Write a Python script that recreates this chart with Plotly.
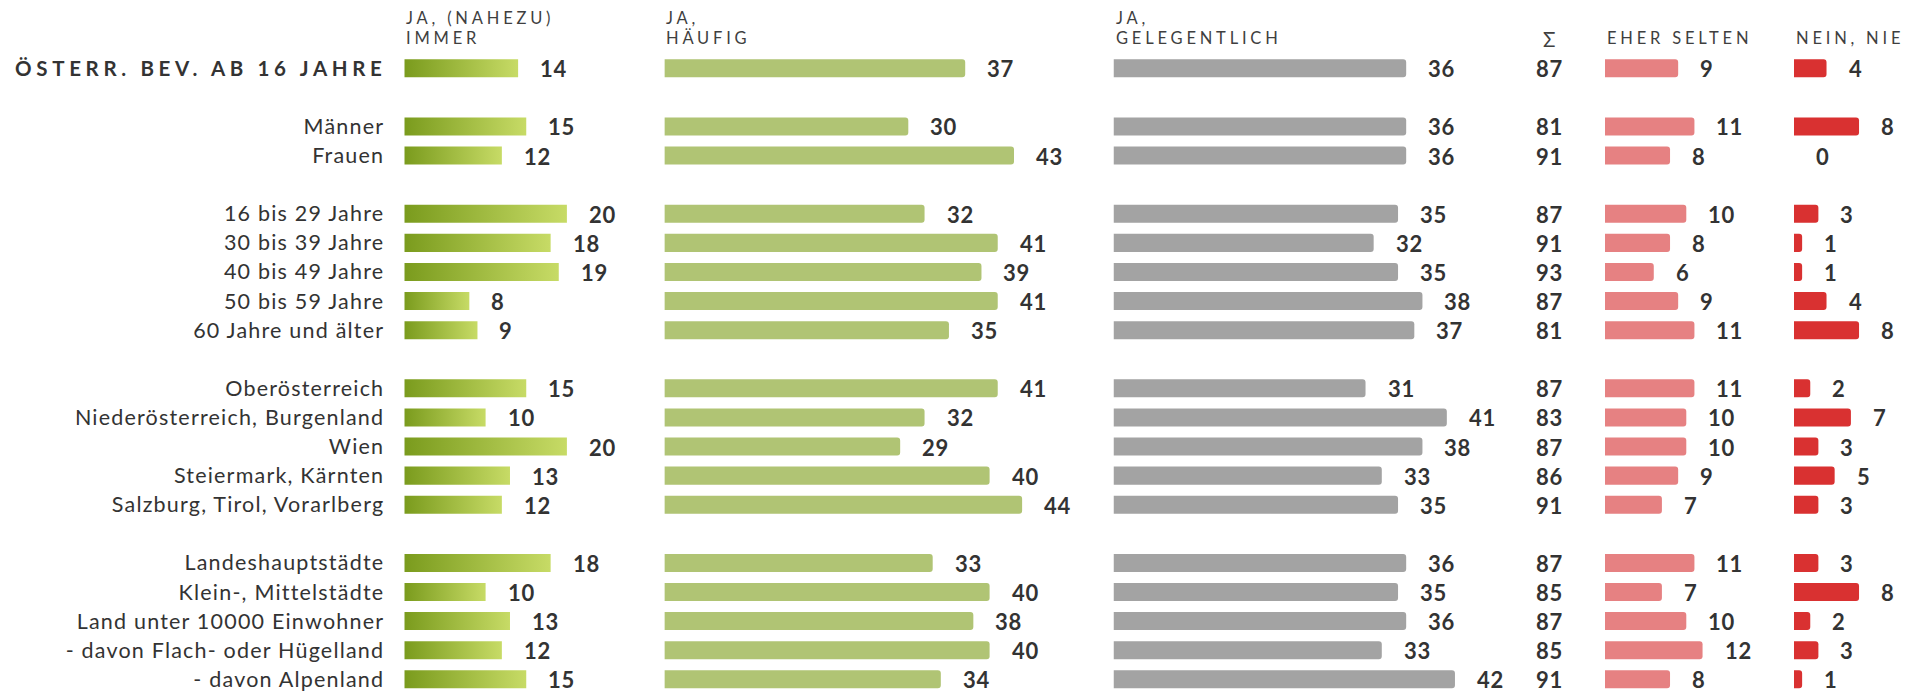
import plotly.graph_objects as go

# --- data ---------------------------------------------------------------
title_label = "ÖSTERR. BEV. AB 16 JAHRE"
row_labels = [
    "Männer", "Frauen",
    "16 bis 29 Jahre", "30 bis 39 Jahre", "40 bis 49 Jahre", "50 bis 59 Jahre", "60 Jahre und älter",
    "Oberösterreich", "Niederösterreich, Burgenland", "Wien", "Steiermark, Kärnten", "Salzburg, Tirol, Vorarlberg",
    "Landeshauptstädte", "Klein-, Mittelstädte", "Land unter 10000 Einwohner",
    "- davon Flach- oder Hügelland", "- davon Alpenland",
]
group_sizes = [1, 2, 5, 5, 5]  # first group is the total row

immer = [14, 15, 12, 20, 18, 19, 8, 9, 15, 10, 20, 13, 12, 18, 10, 13, 12, 15]
haeufig = [37, 30, 43, 32, 41, 39, 41, 35, 41, 32, 29, 40, 44, 33, 40, 38, 40, 34]
gelegentlich = [36, 36, 36, 35, 32, 35, 38, 37, 31, 41, 38, 33, 35, 36, 35, 36, 33, 42]
summe = [87, 81, 91, 87, 91, 93, 87, 81, 87, 83, 87, 86, 91, 87, 85, 87, 85, 91]
eher_selten = [9, 11, 8, 10, 8, 6, 9, 11, 11, 10, 10, 9, 7, 11, 7, 10, 12, 8]
nie = [4, 8, 0, 3, 1, 1, 4, 8, 2, 7, 3, 5, 3, 3, 8, 2, 3, 1]

headers = [["JA, (NAHEZU)", "IMMER"], ["JA,", "HÄUFIG"], ["JA,", "GELEGENTLICH"], ["EHER SELTEN"], ["NEIN, NIE"]]

# --- layout constants ------------------------------------------------------
W, H = 1919, 692
PX_PER_UNIT = 8.13
ROW0_PX, ROW_PITCH = 68.3, 29.095
BAR_W = 0.62
FONT = "Lato, 'Open Sans', sans-serif"
TXT = "#333333"
HEAD = "#3f3f3f"

# row positions with an empty row between groups
rows = []
r = 0
for g in group_sizes:
    for _ in range(g):
        rows.append(r)
        r += 1
    r += 1

title_style = "font-weight:bold;font-size:20.5px"
labels = [
    f'<span style="letter-spacing:4.65px;{title_style}">{title_label[:-1]}</span>'
    f'<span style="letter-spacing:2.4px;{title_style}">{title_label[-1]}</span>'
] + [f'<span style="letter-spacing:1.2px">{t}</span>' for t in row_labels]

columns = [
    # (values, axis, x start px, range max, colour)
    (immer, "x", 404.3, 25, None),
    (haeufig, "x2", 664.4, 50, "#b0c474"),
    (gelegentlich, "x3", 1113.5, 50, "#a3a3a3"),
    (eher_selten, "x4", 1605.0, 20, "#e68182"),
    (nie, "x5", 1794.0, 14.5, "#d93131"),
]

fig = go.Figure()

# first column: gradient-filled bars
h = BAR_W / 2
for v, y in zip(immer, rows):
    fig.add_trace(go.Scatter(
        x=[0, v, v, 0, 0], y=[y - h, y - h, y + h, y + h, y - h],
        mode="lines", line=dict(width=0), fill="toself",
        fillgradient=dict(type="horizontal", colorscale=[[0, "#7a9b1d"], [1, "#c7db66"]]),
        hoverinfo="skip", showlegend=False, xaxis="x", yaxis="y",
    ))

for vals, ax, _, _, color in columns[1:]:
    fig.add_trace(go.Bar(
        x=[v if v else None for v in vals], y=rows, orientation="h", width=BAR_W,
        marker=dict(color=color, line=dict(width=0)),
        showlegend=False, xaxis=ax, yaxis="y", hoverinfo="skip",
    ))

VAL_FONT = dict(family=FONT, size=22, color=TXT)
annotations = []
for vals, ax, _, _, _ in columns:
    for v, y in zip(vals, rows):
        annotations.append(dict(
            x=v, y=y, xref=ax, yref="y", showarrow=False,
            text=f'<span style="letter-spacing:0.8px"><b>{v}</b></span>',
            xanchor="left", xshift=20, yshift=-0.5, font=VAL_FONT,
        ))

sigma_x = 1549.0 / W
for v, y in zip(summe, rows):
    annotations.append(dict(
        x=sigma_x, y=y, xref="paper", yref="y", showarrow=False,
        text=f'<span style="letter-spacing:0.8px"><b>{v}</b></span>',
        xanchor="center", yshift=-0.5, font=VAL_FONT,
    ))

# column headers (last line sits on the same baseline for every column)
LINE_BOTTOM = 50.5
LINE_PITCH = 20.8
for lines, (_, ax, _, _, _) in zip(headers, columns):
    for k, line in enumerate(reversed(lines)):
        annotations.append(dict(
            x=0, y=1 - (LINE_BOTTOM - k * LINE_PITCH) / H, xref=ax, yref="paper", showarrow=False,
            text=f'<span style="letter-spacing:3.8px">{line}</span>',
            xanchor="left", yanchor="bottom", align="left",
            font=dict(family=FONT, size=16.5, color=HEAD),
        ))
annotations.append(dict(
    x=sigma_x, y=1 - 52.5 / H, xref="paper", yref="paper", showarrow=False, text="Σ",
    xanchor="center", yanchor="bottom", font=dict(family=FONT, size=20.5, color=HEAD),
))

layout_axes = {}
for _, ax, p0, rmax, _ in columns:
    name = "xaxis" if ax == "x" else "xaxis" + ax[1:]
    layout_axes[name] = dict(
        domain=[p0 / W, (p0 + rmax * PX_PER_UNIT) / W], range=[0, rmax],
        visible=False, anchor="y", fixedrange=True,
    )

fig.update_layout(
    width=W, height=H,
    margin=dict(l=0, r=0, t=0, b=0),
    paper_bgcolor="white", plot_bgcolor="white",
    barcornerradius=3,
    font=dict(family=FONT, color=TXT),
    annotations=annotations,
    yaxis=dict(
        domain=[0, 1], anchor="x",
        range=[(H - ROW0_PX) / ROW_PITCH, -ROW0_PX / ROW_PITCH],
        tickmode="array", tickvals=rows, ticktext=labels,
        ticks="", ticklabelstandoff=19,
        showgrid=False, zeroline=False, showline=False,
        tickfont=dict(family=FONT, size=21.5, color=TXT),
    ),
    **layout_axes,
)

# the page is exactly the window size: drop the default body margin
fig.write_html(
    "out.html",
    config={"displayModeBar": False},
    post_script="document.body.style.margin='0';document.body.style.overflow='hidden';",
)
